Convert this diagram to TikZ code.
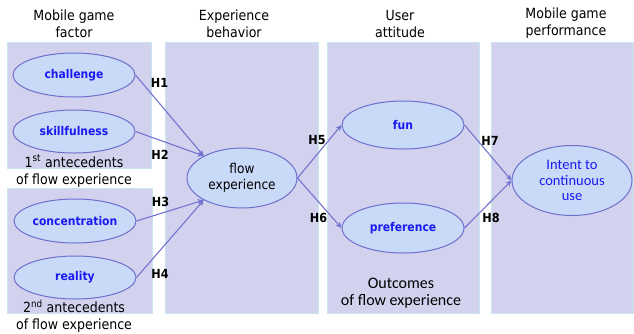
\documentclass[tikz,border=0pt]{standalone}
\usepackage{fontspec}
\setmainfont{DejaVu Sans Condensed}
\newfontfamily\calib{Carlito}
\usetikzlibrary{shapes.geometric,arrows.meta}
\definecolor{panelfill}{HTML}{D2D2EE}
\definecolor{panelline}{HTML}{C8E6EE}
\definecolor{ovalfill}{HTML}{C9DAF8}
\definecolor{ovalline}{HTML}{6E6ECC}
\definecolor{arrowc}{HTML}{7373D1}
\definecolor{labelblue}{HTML}{1A1AF0}
\tikzset{
  panel/.style={fill=panelfill, draw=panelline, line width=0.6pt},
  oval/.style={ellipse, draw=ovalline, fill=ovalfill, line width=1pt, inner sep=0pt},
  lbl/.style={font=\bfseries\fontsize{12}{14}\selectfont, text=labelblue},
  hyp/.style={font=\bfseries\fontsize{12.5}{14}\selectfont},
  head/.style={align=center, font=\fontsize{14}{17}\selectfont},
  link/.style={draw=arrowc, line width=1.1pt, -{Stealth[length=6pt,width=5.5pt]}}
}
\begin{document}
\begin{tikzpicture}[x=1pt,y=-1pt]
\useasboundingbox (0,0) rectangle (634,333);
% panels
\path[panel] (7,42) rectangle (151,168);
\path[panel] (7,188) rectangle (152,313);
\path[panel] (165,42) rectangle (318,313);
\path[panel] (327,42) rectangle (479,313);
\path[panel] (491,42) rectangle (633.5,313);
% headers
\node[head] (hA) at (74,23.5) {Mobile game\\factor};
\node[head] (hB) at (234,23.5) {Experience\\behavior};
\node[head] (hC) at (400,23.5) {User\\attitude};
\node[head] (hD) at (566,23.5) {Mobile game\\performance};
% ellipses
\node[oval, minimum width=122pt, minimum height=44pt, lbl] (challenge) at (74,75) {challenge};
\node[oval, minimum width=122pt, minimum height=43pt, lbl] (skill) at (74,131.5) {skillfulness};
\node[oval, minimum width=122pt, minimum height=44pt, lbl] (conc) at (75,221) {concentration};
\node[oval, minimum width=122pt, minimum height=43pt, lbl] (real) at (75,277.5) {reality};
\node[oval, minimum width=110pt, minimum height=60pt, align=center, font=\fontsize{13.5}{16}\selectfont] (flow) at (242,178) {flow\\experience};
\node[oval, minimum width=122pt, minimum height=48pt, lbl] (fun) at (403,125) {fun};
\node[oval, minimum width=122pt, minimum height=50pt, lbl] (pref) at (403,228) {preference};
\node[oval, minimum width=120pt, minimum height=70pt, align=center, text=labelblue, font=\calib\fontsize{14.5}{15.5}\selectfont] (intent) at (572,180.5) {Intent to\\continuous\\use};
% captions
\node[head] (ante1) at (74,171) {1\textsuperscript{st} antecedents\\of flow experience};
\node[head] (ante2) at (74,316) {2\textsuperscript{nd} antecedents\\of flow experience};
\node[align=center, font=\calib\fontsize{16}{17}\selectfont] (outc) at (401,293.5) {Outcomes\\of flow experience};
% connectors
\draw[link] (challenge.east) -- (flow.150);
\draw[link] (skill.east) -- (flow.150);
\draw[link] (conc.east) -- (flow.210);
\draw[link] (real.east) -- (flow.210);
\draw[link] (flow.east) -- (fun.west);
\draw[link] (flow.east) -- (pref.west);
\draw[link] (fun.east) -- (intent.west);
\draw[link] (pref.east) -- (intent.west);
% hypothesis labels
\node[hyp] (H1) at (159.5,83) {H1};
\node[hyp] (H2) at (160,155) {H2};
\node[hyp] (H3) at (160.5,201.5) {H3};
\node[hyp] (H4) at (160,273.5) {H4};
\node[hyp] (H5) at (317,140) {H5};
\node[hyp] (H6) at (318.5,217.5) {H6};
\node[hyp] (H7) at (490,141) {H7};
\node[hyp] (H8) at (491,217.5) {H8};
\end{tikzpicture}
\end{document}
